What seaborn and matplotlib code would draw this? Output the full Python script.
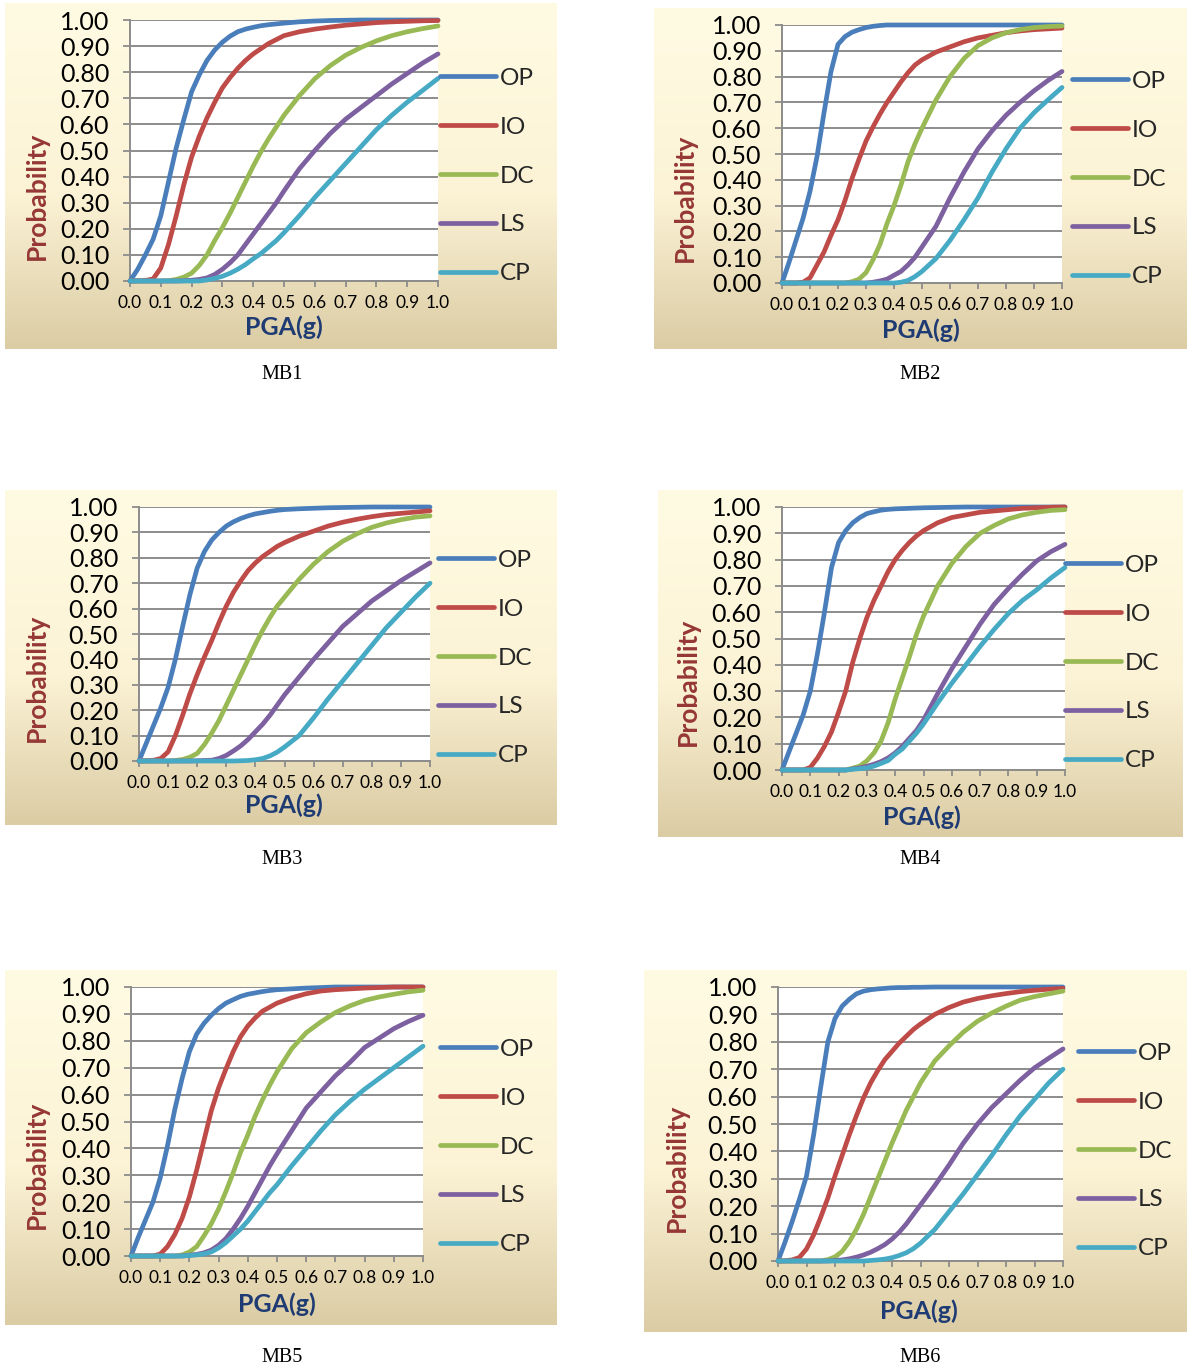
import numpy as np
import pandas as pd
import matplotlib
matplotlib.use("Agg")
import matplotlib.pyplot as plt
import seaborn as sns
from matplotlib.colors import LinearSegmentedColormap

# ---------------------------------------------------------------- data
PGA = [0.000, 0.025, 0.050, 0.075, 0.100, 0.125, 0.150, 0.175, 0.200, 0.225, 0.250,
       0.275, 0.300, 0.325, 0.350, 0.375, 0.400, 0.425, 0.450, 0.475, 0.500,
       0.55, 0.60, 0.65, 0.70, 0.75, 0.80, 0.85, 0.90, 0.95, 1.00]
STATES = ["OP", "IO", "DC", "LS", "CP"]
BUILDINGS = ["MB1", "MB2", "MB3", "MB4", "MB5", "MB6"]
X_TICKS = [0.0, 0.1, 0.2, 0.3, 0.4, 0.5, 0.6, 0.7, 0.8, 0.9, 1.0]
Y_TICKS = [0.0, 0.1, 0.2, 0.3, 0.4, 0.5, 0.6, 0.7, 0.8, 0.9, 1.0]

MB1_OP = [0, .045, .10, .16, .25, .38, .51, .62, .725, .79, .845, .885, .915, .938, .955, .965, .972, .978, .982, .985, .988,
          .993, .996, .998, .999, 1, 1, 1, 1, 1, 1]
MB1_IO = [0, .001, .002, .008, .05, .14, .25, .37, .475, .555, .625, .685, .74, .78, .815, .845, .87, .89, .91, .925, .94,
          .955, .965, .973, .98, .985, .99, .993, .995, .997, .998]
MB1_DC = [0, 0, 0, 0, 0, .001, .006, .015, .03, .06, .10, .155, .205, .26, .32, .38, .44, .495, .545, .59, .635,
          .71, .775, .825, .865, .895, .92, .94, .955, .967, .977]
MB1_LS = [0, 0, 0, 0, 0, 0, 0, .001, .003, .006, .012, .025, .045, .07, .10, .14, .18, .22, .26, .30, .345,
          .43, .50, .565, .62, .665, .71, .755, .795, .835, .87]
MB1_CP = [0, 0, 0, 0, 0, 0, 0, 0, 0, 0, .004, .01, .018, .03, .045, .063, .085, .105, .13, .155, .185,
          .25, .32, .385, .45, .515, .58, .635, .685, .73, .776]

MB2_OP = [0, .08, .165, .25, .355, .49, .66, .82, .925, .955, .972, .982, .99, .995, .998, 1, 1, 1, 1, 1, 1,
          1, 1, 1, 1, 1, 1, 1, 1, 1, 1]
MB2_IO = [0, 0, 0, .003, .02, .07, .12, .185, .245, .32, .405, .48, .55, .605, .655, .70, .74, .78, .815, .845, .865,
          .895, .915, .935, .95, .96, .97, .977, .982, .985, .988]
MB2_DC = [0, 0, 0, 0, 0, 0, 0, 0, 0, 0, .005, .015, .04, .09, .15, .23, .30, .38, .47, .54, .60,
          .71, .80, .87, .92, .95, .97, .982, .99, .994, .996]
MB2_LS = [0, 0, 0, 0, 0, 0, 0, 0, 0, 0, 0, 0, 0, .003, .008, .015, .03, .045, .07, .10, .14,
          .22, .33, .43, .52, .59, .65, .70, .745, .785, .82]
MB2_CP = [0, 0, 0, 0, 0, 0, 0, 0, 0, 0, 0, 0, 0, 0, 0, 0, 0, .003, .01, .025, .045,
          .095, .165, .245, .33, .43, .52, .60, .66, .71, .758]

MB3_OP = [0, .07, .14, .21, .29, .40, .53, .655, .76, .825, .87, .90, .925, .942, .955, .965, .973, .978, .983, .987, .99,
          .993, .995, .997, .998, .999, 1, 1, 1, 1, 1]
MB3_IO = [0, .001, .003, .01, .036, .10, .18, .265, .34, .41, .475, .545, .61, .665, .71, .75, .78, .805, .825, .845, .86,
          .885, .905, .925, .94, .952, .962, .97, .975, .98, .985]
MB3_DC = [0, 0, 0, 0, 0, .002, .006, .015, .03, .065, .11, .16, .22, .28, .34, .40, .46, .515, .565, .61, .645,
          .715, .775, .825, .865, .895, .92, .937, .95, .96, .965]
MB3_LS = [0, 0, 0, 0, 0, 0, 0, 0, .001, .002, .003, .01, .022, .04, .06, .085, .115, .145, .18, .22, .26,
          .33, .40, .465, .53, .58, .63, .67, .71, .745, .78]
MB3_CP = [0, 0, 0, 0, 0, 0, 0, 0, 0, 0, 0, 0, 0, 0, .001, .002, .005, .01, .02, .035, .055,
          .10, .17, .245, .315, .385, .455, .525, .585, .645, .70]

MB4_OP = [0, .07, .14, .21, .30, .44, .60, .77, .865, .91, .94, .96, .975, .982, .988, .991, .993, .994, .995, .996, .997,
          .998, .999, 1, 1, 1, 1, 1, 1, 1, 1]
MB4_IO = [0, 0, 0, 0, .01, .045, .09, .145, .22, .30, .41, .50, .58, .645, .70, .755, .80, .835, .865, .89, .91,
          .94, .96, .97, .98, .985, .99, .995, .997, .999, 1]
MB4_DC = [0, 0, 0, 0, 0, 0, 0, 0, 0, 0, .007, .015, .035, .065, .11, .18, .27, .35, .43, .515, .585,
          .70, .785, .85, .90, .93, .955, .97, .98, .987, .99]
MB4_LS = [0, 0, 0, 0, 0, 0, 0, 0, 0, 0, .004, .008, .014, .022, .032, .046, .065, .09, .12, .15, .19,
          .29, .385, .47, .555, .63, .69, .745, .795, .83, .858]
MB4_CP = [0, 0, 0, 0, 0, 0, 0, 0, 0, 0, .003, .005, .008, .015, .025, .036, .06, .08, .11, .14, .175,
          .255, .33, .40, .47, .535, .595, .645, .685, .73, .77]

MB5_OP = [0, .07, .135, .20, .29, .41, .545, .66, .76, .825, .865, .895, .92, .94, .953, .965, .973, .978, .983, .987, .99,
          .993, .996, .998, 1, 1, 1, 1, 1, 1, 1]
MB5_IO = [0, 0, 0, 0, .007, .035, .08, .14, .22, .32, .43, .54, .625, .695, .76, .815, .855, .885, .91, .925, .94,
          .96, .975, .985, .99, .993, .996, .998, 1, 1, 1]
MB5_DC = [0, 0, 0, 0, 0, 0, 0, .004, .015, .035, .075, .12, .175, .24, .31, .385, .45, .52, .58, .635, .685,
          .77, .83, .87, .905, .93, .95, .963, .973, .982, .988]
MB5_LS = [0, 0, 0, 0, 0, 0, 0, 0, .003, .006, .012, .022, .04, .065, .10, .14, .185, .235, .285, .335, .38,
          .465, .55, .61, .67, .72, .775, .81, .845, .872, .895]
MB5_CP = [0, 0, 0, 0, 0, 0, 0, 0, .002, .004, .008, .015, .03, .05, .075, .10, .13, .165, .20, .235, .265,
          .335, .40, .465, .525, .575, .62, .66, .70, .74, .78]

MB6_OP = [0, .07, .145, .225, .31, .46, .635, .80, .885, .93, .955, .975, .985, .99, .993, .995, .997, .998, .998, .999, .999,
          1, 1, 1, 1, 1, 1, 1, 1, 1, 1]
MB6_IO = [0, .001, .004, .013, .044, .095, .16, .23, .31, .385, .46, .53, .595, .65, .695, .735, .765, .795, .82, .845, .865,
          .90, .925, .945, .958, .968, .976, .983, .988, .992, .995]
MB6_DC = [0, 0, 0, 0, 0, 0, 0, .005, .015, .035, .07, .115, .17, .235, .30, .365, .43, .49, .55, .60, .65,
          .73, .785, .835, .875, .905, .93, .952, .965, .975, .985]
MB6_LS = [0, 0, 0, 0, 0, 0, 0, 0, .002, .004, .008, .014, .022, .032, .045, .06, .08, .105, .135, .17, .205,
          .275, .35, .43, .50, .56, .61, .66, .705, .74, .774]
MB6_CP = [0, 0, 0, 0, 0, 0, 0, 0, 0, 0, 0, 0, 0, .002, .004, .007, .012, .02, .03, .045, .065,
          .115, .18, .245, .315, .385, .46, .53, .59, .65, .70]

CURVES = {
    "MB1": [MB1_OP, MB1_IO, MB1_DC, MB1_LS, MB1_CP],
    "MB2": [MB2_OP, MB2_IO, MB2_DC, MB2_LS, MB2_CP],
    "MB3": [MB3_OP, MB3_IO, MB3_DC, MB3_LS, MB3_CP],
    "MB4": [MB4_OP, MB4_IO, MB4_DC, MB4_LS, MB4_CP],
    "MB5": [MB5_OP, MB5_IO, MB5_DC, MB5_LS, MB5_CP],
    "MB6": [MB6_OP, MB6_IO, MB6_DC, MB6_LS, MB6_CP],
}

COLORS = ["#4A7EBB", "#BE4B48", "#98B954", "#7D60A0", "#46AAC5"]

# ---------------------------------------------------------------- layout (pixels)
W, H = 1187, 1366
# background box, plot box, y-label centre, x-label centre, legend (left, middle), caption centre
LAYOUT = {
    "MB1": dict(bg=(5, 3, 557, 349), plot=(130, 20, 438, 281), ylab=(37, 196), xlab=(284, 327), leg=(440, 176), cap=(282, 375)),
    "MB2": dict(bg=(654, 8, 1187, 349), plot=(782, 25, 1062, 283), ylab=(685, 198), xlab=(921, 330), leg=(1072, 179), cap=(920, 375)),
    "MB3": dict(bg=(5, 490, 557, 825), plot=(139, 507, 430, 761), ylab=(37, 678), xlab=(284, 805), leg=(438, 658), cap=(282, 860)),
    "MB4": dict(bg=(658, 490, 1183, 837), plot=(782, 507, 1065, 770), ylab=(688, 682), xlab=(922, 817), leg=(1065, 663), cap=(920, 860)),
    "MB5": dict(bg=(5, 970, 557, 1325), plot=(131, 987, 423, 1256), ylab=(37, 1165), xlab=(277, 1304), leg=(440, 1147), cap=(282, 1357)),
    "MB6": dict(bg=(644, 970, 1187, 1332), plot=(778, 987, 1063, 1261), ylab=(677, 1168), xlab=(919, 1311), leg=(1078, 1151), cap=(920, 1357)),
}

sns.set_theme(style="white")
plt.rcParams["font.family"] = ["Lato", "DejaVu Sans"]

fig = plt.figure(figsize=(W / 100, H / 100), dpi=100)
fig.patch.set_facecolor("white")

parchment = LinearSegmentedColormap.from_list(
    "parchment", [(0.0, "#FFFBE3"), (0.55, "#FCF3D6"), (1.0, "#DBCCA4")])
gradient = np.linspace(0, 1, 256).reshape(-1, 1)


def rect(x0, y0, x1, y1):
    return [x0 / W, 1 - y1 / H, (x1 - x0) / W, (y1 - y0) / H]


GRID = "#8C8C8C"

for name in BUILDINGS:
    lay = LAYOUT[name]

    bg = fig.add_axes(rect(*lay["bg"]), zorder=0)
    bg.imshow(gradient, aspect="auto", cmap=parchment, extent=[0, 1, 0, 1], origin="upper")
    bg.set_axis_off()

    ax = fig.add_axes(rect(*lay["plot"]), zorder=1)
    ax.set_facecolor("white")

    df = pd.concat(
        [pd.DataFrame({"PGA": PGA, "P": vals, "state": st})
         for st, vals in zip(STATES, CURVES[name])],
        ignore_index=True)
    sns.lineplot(data=df, x="PGA", y="P", hue="state", hue_order=STATES,
                 palette=COLORS, linewidth=3.4, estimator=None, errorbar=None,
                 legend=False, ax=ax, clip_on=False,
                 solid_capstyle="round", solid_joinstyle="round", zorder=3)

    ax.set_xlim(0, 1)
    ax.set_ylim(0, 1)
    ax.set_xticks(X_TICKS)
    ax.set_xticklabels([f"{v:.1f}" for v in X_TICKS])
    ax.set_yticks(Y_TICKS)
    ax.set_yticklabels([f"{v:.2f}" for v in Y_TICKS])
    ax.yaxis.grid(True, color=GRID, linewidth=1.4)
    ax.xaxis.grid(False)
    ax.set_axisbelow(True)
    for side in ("top", "right"):
        ax.spines[side].set_visible(False)
    for side in ("left", "bottom"):
        ax.spines[side].set_color(GRID)
        ax.spines[side].set_linewidth(1.4)
    ax.tick_params(axis="y", left=True, direction="out", length=5, width=1.3,
                   color=GRID, labelsize=18, pad=10, labelcolor="black")
    ax.tick_params(axis="x", bottom=True, direction="out", length=4, width=1.3,
                   color=GRID, labelsize=12.5, pad=6, labelcolor="black")

    px0, py0, px1, py1 = lay["plot"]
    pw, ph = px1 - px0, py1 - py0

    ax.set_ylabel("Probability", fontsize=19, fontweight="bold", color="#953735")
    ax.yaxis.label.set(va="center", ha="center", rotation_mode="default")
    ax.yaxis.set_label_coords((lay["ylab"][0] - px0) / pw, (py1 - lay["ylab"][1]) / ph)

    ax.set_xlabel("PGA(g)", fontsize=18, fontweight="bold", color="#1F3B73")
    ax.xaxis.label.set(va="center", ha="center")
    ax.xaxis.set_label_coords((lay["xlab"][0] - px0) / pw, (py1 - lay["xlab"][1]) / ph)

    handles = ax.get_lines()[:len(STATES)]
    ax.legend(handles, STATES, loc="center left",
              bbox_to_anchor=(lay["leg"][0] / W, 1 - lay["leg"][1] / H),
              bbox_transform=fig.transFigure, frameon=False, fontsize=17.5,
              handlelength=2.3, handletextpad=0.15, labelspacing=1.15,
              borderpad=0, borderaxespad=0)

    fig.text(lay["cap"][0] / W, 1 - lay["cap"][1] / H, name, ha="center",
             va="center", fontsize=14.5, family="Liberation Serif", color="black")

fig.savefig("out.png", dpi=100, facecolor="white")
